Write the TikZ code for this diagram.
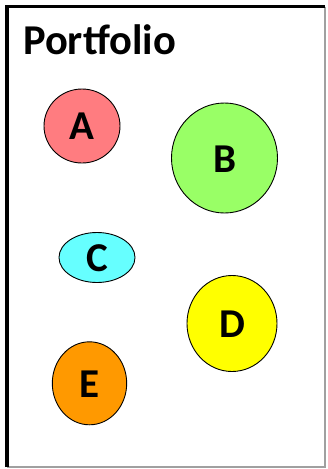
\documentclass[tikz,border=0pt]{standalone}
\usepackage{fontspec}
\setmainfont{Carlito}
\definecolor{cA}{HTML}{FF7C80}
\definecolor{cB}{HTML}{99FF66}
\definecolor{cC}{HTML}{66FFFF}
\definecolor{cD}{HTML}{FFFF00}
\definecolor{cE}{HTML}{FF9900}
\definecolor{framegray}{HTML}{A0A0A0}
\tikzset{
  blob/.style={draw=black, line width=0.9pt},
  lbl/.style={font=\fontsize{41}{41}\selectfont\bfseries, inner sep=0pt, anchor=center},
}
\begin{document}
\begin{tikzpicture}[x=1pt,y=-1pt]
\useasboundingbox (0,0) rectangle (327,469);
\fill[white] (0,0) rectangle (327,469);
% frame
\coordinate (tl) at (7,6.5);
\coordinate (tr) at (325,6.5);
\coordinate (bl) at (7,467);
\coordinate (br) at (325,467);
\draw[framegray, line width=1.5pt] (tr) -- (br) -- (bl);
\draw[black, line width=3.8pt] (bl) -- (tl) -- (tr);
% title
\node[font=\fontsize{42.5}{42.5}\selectfont\bfseries, anchor=base west, inner sep=0pt] (title) at (23,54) {Portfolio};
% blobs
\fill[cA] (82,126) ellipse [x radius=38, y radius=37];
\draw[blob] (82,126) ellipse [x radius=38, y radius=37];
\node[lbl] (A) at (82,126.5) {A};
\fill[cB] (224.5,158) ellipse [x radius=53, y radius=55];
\draw[blob] (224.5,158) ellipse [x radius=53, y radius=55];
\node[lbl] (B) at (224.5,159) {B};
\fill[cC] (97,257.5) ellipse [x radius=38, y radius=25];
\draw[blob] (97,257.5) ellipse [x radius=38, y radius=25];
\node[lbl] (C) at (97,258) {C};
\fill[cD] (232,323.5) ellipse [x radius=45, y radius=48];
\draw[blob] (232,323.5) ellipse [x radius=45, y radius=48];
\node[lbl] (D) at (232,324) {D};
\fill[cE] (89.5,383.3) ellipse [x radius=37.2, y radius=41.5];
\draw[blob] (89.5,383.3) ellipse [x radius=37.2, y radius=41.5];
\node[lbl] (E) at (89.5,384) {E};
\end{tikzpicture}
\end{document}
